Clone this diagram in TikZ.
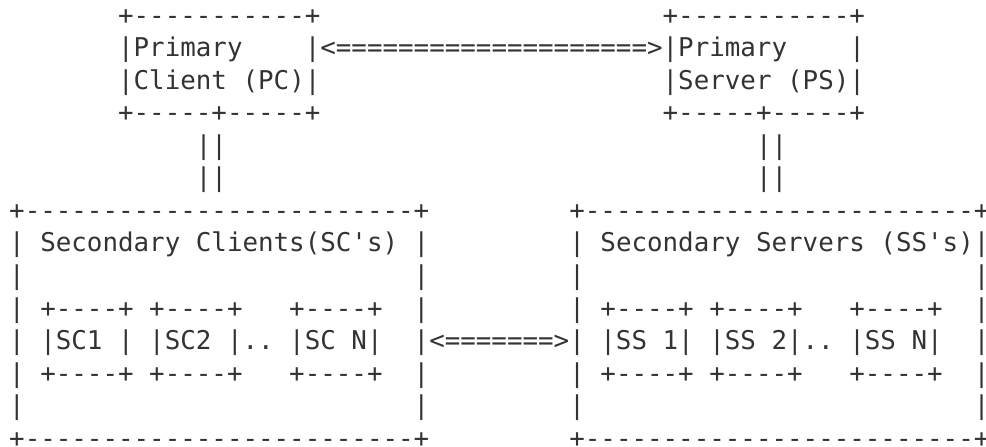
\documentclass[tikz,border=0pt]{standalone}
\usepackage{fontspec}
\setmonofont{DejaVu Sans Mono}
\definecolor{ink}{HTML}{333333}
\newcommand\skipc[1]{\hspace*{\dimexpr #1\fontcharwd\font`x\relax}}
\tikzset{
  asciiline/.style={anchor=mid west, inner sep=0pt, outer sep=0pt, text=ink,
    font=\ttfamily\fontsize{12.922pt}{16pt}\selectfont}
}
\begin{document}
\begin{tikzpicture}[x=0.5pt,y=-0.5pt]
\useasboundingbox (0,0) rectangle (986,446);
\def\lx{9.2}
\node[asciiline] (l1) at (\lx,19.7) {\skipc{7}+-----------+\skipc{22}+-----------+};
\node[asciiline] (l2) at (\lx,52.26) {\skipc{7}|Primary\skipc{4}|<====================>|Primary\skipc{4}|};
\node[asciiline] (l3) at (\lx,84.82) {\skipc{7}|Client~(PC)|\skipc{22}|Server~(PS)|};
\node[asciiline] (l4) at (\lx,117.38) {\skipc{7}+-----+-----+\skipc{22}+-----+-----+};
\node[asciiline] (l5) at (\lx,149.94) {\skipc{12}||\skipc{34}||};
\node[asciiline] (l6) at (\lx,182.5) {\skipc{12}||\skipc{34}||};
\node[asciiline] (l7) at (\lx,215.06) {+-------------------------+\skipc{9}+-------------------------+};
\node[asciiline] (l8) at (\lx,247.62) {|~Secondary~Clients(SC's)~|\skipc{9}|~Secondary~Servers~(SS's)|};
\node[asciiline] (l9) at (\lx,280.18) {|\skipc{25}|\skipc{9}|\skipc{25}|};
\node[asciiline] (l10) at (\lx,312.74) {|~+----+~+----+\skipc{3}+----+\skipc{2}|\skipc{9}|~+----+~+----+\skipc{3}+----+\skipc{2}|};
\node[asciiline] (l11) at (\lx,345.3) {|~|SC1~|~|SC2~|..~|SC~N|\skipc{2}|<=======>|~|SS~1|~|SS~2|..~|SS~N|\skipc{2}|};
\node[asciiline] (l12) at (\lx,377.86) {|~+----+~+----+\skipc{3}+----+\skipc{2}|\skipc{9}|~+----+~+----+\skipc{3}+----+\skipc{2}|};
\node[asciiline] (l13) at (\lx,410.42) {|\skipc{25}|\skipc{9}|\skipc{25}|};
\node[asciiline] (l14) at (\lx,442.98) {+-------------------------+\skipc{9}+-------------------------+};
\end{tikzpicture}
\end{document}
